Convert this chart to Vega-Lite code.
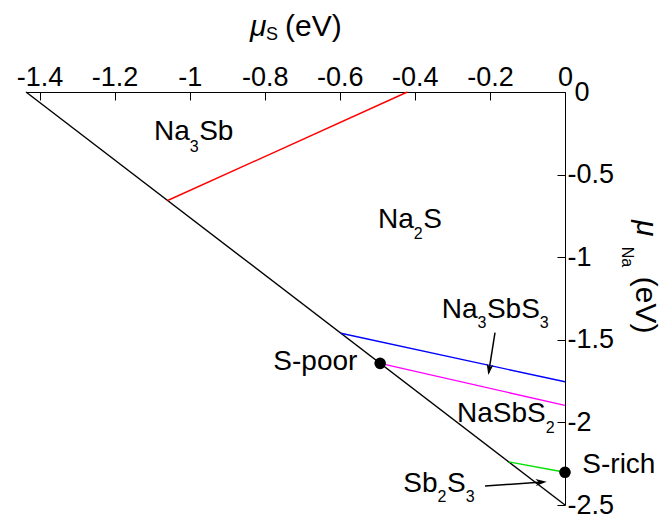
{
  "$schema": "https://vega.github.io/schema/vega-lite/v6.json",
  "width": 539,
  "height": 413,
  "autosize": "none",
  "padding": {"left": 26, "top": 92, "right": 101, "bottom": 14},
  "background": "white",
  "config": {"view": {"stroke": null}, "font": "Liberation Sans"},
  "datasets": {
    "bounds": [
      {"b": "limit", "x": -1.436, "y": 0, "x2": 0, "y2": -2.5},
      {"b": "Na3Sb", "x": -1.0587, "y": -0.6568, "x2": -0.42, "y2": 0},
      {"b": "Na3SbS3", "x": -0.597, "y": -1.4607, "x2": 0, "y2": -1.754},
      {"b": "NaSbS2", "x": -0.4925, "y": -1.6426, "x2": 0, "y2": -1.897},
      {"b": "Sb2S3", "x": -0.15, "y": -2.239, "x2": 0, "y2": -2.302}
    ],
    "arrows": [
      {"a": "Na3SbS3", "x": -0.1865, "y": -1.457, "x2": -0.2035, "y2": -1.70},
      {"a": "Sb2S3", "x": -0.2131, "y": -2.385, "x2": -0.06, "y2": -2.361}
    ],
    "tips": [
      {"a": "Na3SbS3", "x": -0.2043, "y": -1.7131},
      {"a": "Sb2S3", "x": -0.0488, "y": -2.359}
    ],
    "dots": [
      {"p": "S-poor", "x": -0.4925, "y": -1.6426},
      {"p": "S-rich", "x": 0, "y": -2.302}
    ],
    "texts": [
      {"role": "main", "t": "Na", "x": -1.095, "y": -0.2906},
      {"role": "main", "t": "Sb", "x": -0.9746, "y": -0.2906},
      {"role": "main", "t": "Na", "x": -0.4982, "y": -0.8232},
      {"role": "main", "t": "S", "x": -0.3778, "y": -0.8232},
      {"role": "main", "t": "Na", "x": -0.3285, "y": -1.3699},
      {"role": "main", "t": "SbS", "x": -0.2081, "y": -1.3699},
      {"role": "main", "t": "NaSbS", "x": -0.2877, "y": -1.9958},
      {"role": "main", "t": "Sb", "x": -0.4308, "y": -2.4195},
      {"role": "main", "t": "S", "x": -0.3144, "y": -2.4195},
      {"role": "main", "t": "S-poor", "x": -0.7771, "y": -1.6828},
      {"role": "main", "t": "S-rich", "x": 0.0461, "y": -2.3081},
      {"role": "sub", "t": "3", "x": -0.9996, "y": -0.3614},
      {"role": "sub", "t": "2", "x": -0.4028, "y": -0.8916},
      {"role": "sub", "t": "3", "x": -0.2331, "y": -1.4304},
      {"role": "sub", "t": "3", "x": -0.0671, "y": -1.4304},
      {"role": "sub", "t": "2", "x": -0.0514, "y": -2.066},
      {"role": "sub", "t": "2", "x": -0.3394, "y": -2.4801},
      {"role": "sub", "t": "3", "x": -0.2646, "y": -2.4801},
      {"role": "topMu", "t": "μ", "x": -0.8392, "y": 0.342},
      {"role": "topSub", "t": "S", "x": -0.7966, "y": 0.3148},
      {"role": "topUnit", "t": "(eV)", "x": -0.746, "y": 0.342},
      {"role": "rightMu", "t": "μ", "x": 0.1918, "y": -0.7748},
      {"role": "rightSub", "t": "Na", "x": 0.1519, "y": -0.9364},
      {"role": "rightUnit", "t": "(eV)", "x": 0.1892, "y": -1.118}
    ]
  },
  "encoding": {
    "x": {
      "field": "x", "type": "quantitative",
      "scale": {"domain": [-1.436, 0], "nice": false, "zero": false},
      "axis": {
        "orient": "top", "title": null, "grid": false,
        "values": [-1.4, -1.2, -1, -0.8, -0.6, -0.4, -0.2, 0],
        "labelExpr": "'' + datum.value",
        "tickSize": -8, "labelPadding": 9, "labelFlush": false, "labelOverlap": false,
        "labelFont": "Liberation Sans", "labelFontSize": 27, "labelColor": "black",
        "domainColor": "black", "tickColor": "black", "domainWidth": 1, "tickWidth": 1
      }
    },
    "y": {
      "field": "y", "type": "quantitative",
      "scale": {"domain": [-2.5, 0], "nice": false, "zero": false},
      "axis": {
        "orient": "right", "title": null, "grid": false,
        "values": [0, -0.5, -1, -1.5, -2, -2.5],
        "labelExpr": "'' + datum.value",
        "tickSize": -8,
        "labelPadding": {"condition": {"test": "datum.value == 0", "value": 17}, "value": 10},
        "labelFlush": false, "labelOverlap": false,
        "labelAlign": "left", "labelBaseline": "middle",
        "labelFont": "Liberation Sans", "labelFontSize": 27, "labelColor": "black",
        "domainColor": "black", "tickColor": "black", "domainWidth": 1, "tickWidth": 1
      }
    }
  },
  "layer": [
    {
      "data": {"name": "bounds"},
      "mark": {"type": "rule", "strokeWidth": 1.4},
      "encoding": {
        "x2": {"field": "x2"},
        "y2": {"field": "y2"},
        "color": {
          "field": "b", "type": "nominal", "legend": null,
          "scale": {"domain": ["limit", "Na3Sb", "Na3SbS3", "NaSbS2", "Sb2S3"],
                    "range": ["#000000", "#ff0000", "#0000ff", "#ff00ff", "#00e000"]}
        }
      }
    },
    {
      "data": {"name": "arrows"},
      "mark": {"type": "rule", "strokeWidth": 1.5, "color": "black"},
      "encoding": {"x2": {"field": "x2"}, "y2": {"field": "y2"}}
    },
    {
      "data": {"name": "tips"},
      "transform": [{"filter": "datum.a == 'Na3SbS3'"}],
      "mark": {"type": "point", "filled": true, "color": "black", "opacity": 1,
               "shape": "M0,0 L0.5,1.6 L0,1.15 L-0.5,1.6 Z", "size": 190, "angle": 189},
      "encoding": {}
    },
    {
      "data": {"name": "tips"},
      "transform": [{"filter": "datum.a == 'Sb2S3'"}],
      "mark": {"type": "point", "filled": true, "color": "black", "opacity": 1,
               "shape": "M0,0 L0.5,1.6 L0,1.15 L-0.5,1.6 Z", "size": 190, "angle": 86},
      "encoding": {}
    },
    {
      "data": {"name": "dots"},
      "mark": {"type": "circle", "color": "black", "opacity": 1, "size": 135},
      "encoding": {}
    },
    {
      "data": {"name": "texts"},
      "transform": [{"filter": "datum.role == 'main'"}],
      "mark": {"type": "text", "align": "left", "baseline": "alphabetic", "fontSize": 28, "font": "Liberation Sans", "color": "black"},
      "encoding": {"text": {"field": "t"}}
    },
    {
      "data": {"name": "texts"},
      "transform": [{"filter": "datum.role == 'sub'"}],
      "mark": {"type": "text", "align": "left", "baseline": "alphabetic", "fontSize": 16, "font": "Liberation Sans", "color": "black"},
      "encoding": {"text": {"field": "t"}}
    },
    {
      "data": {"name": "texts"},
      "transform": [{"filter": "datum.role == 'topMu'"}],
      "mark": {"type": "text", "align": "left", "baseline": "alphabetic", "fontSize": 30, "fontStyle": "italic", "font": "Liberation Sans", "color": "black"},
      "encoding": {"text": {"field": "t"}}
    },
    {
      "data": {"name": "texts"},
      "transform": [{"filter": "datum.role == 'topSub'"}],
      "mark": {"type": "text", "align": "left", "baseline": "alphabetic", "fontSize": 18, "font": "Liberation Sans", "color": "black"},
      "encoding": {"text": {"field": "t"}}
    },
    {
      "data": {"name": "texts"},
      "transform": [{"filter": "datum.role == 'topUnit'"}],
      "mark": {"type": "text", "align": "left", "baseline": "alphabetic", "fontSize": 30, "font": "Liberation Sans", "color": "black"},
      "encoding": {"text": {"field": "t"}}
    },
    {
      "data": {"name": "texts"},
      "transform": [{"filter": "datum.role == 'rightMu'"}],
      "mark": {"type": "text", "align": "left", "baseline": "alphabetic", "angle": 90, "fontSize": 30, "fontStyle": "italic", "font": "Liberation Sans", "color": "black"},
      "encoding": {"text": {"field": "t"}}
    },
    {
      "data": {"name": "texts"},
      "transform": [{"filter": "datum.role == 'rightSub'"}],
      "mark": {"type": "text", "align": "left", "baseline": "alphabetic", "angle": 90, "fontSize": 16, "font": "Liberation Sans", "color": "black"},
      "encoding": {"text": {"field": "t"}}
    },
    {
      "data": {"name": "texts"},
      "transform": [{"filter": "datum.role == 'rightUnit'"}],
      "mark": {"type": "text", "align": "left", "baseline": "alphabetic", "angle": 90, "fontSize": 30, "font": "Liberation Sans", "color": "black"},
      "encoding": {"text": {"field": "t"}}
    }
  ]
}
